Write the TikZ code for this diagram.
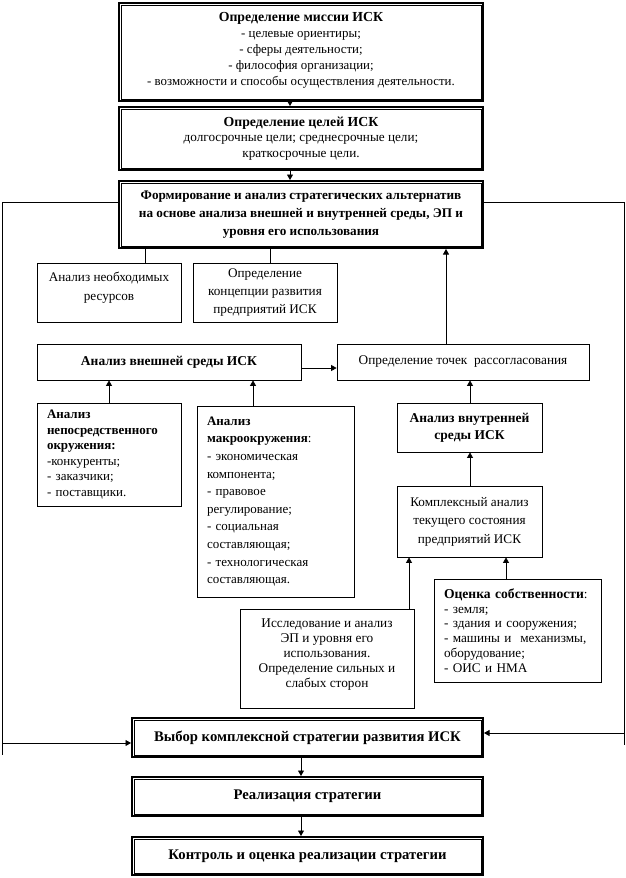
\documentclass[tikz,border=0pt]{standalone}
\usepackage{fontspec}
\setmainfont{Liberation Serif}
\usetikzlibrary{arrows.meta}
\newcommand\fsz[2]{\fontsize{#1}{#2}\selectfont}
\newcommand\bt[2]{{\fontsize{#1}{10}\selectfont\bfseries #2}}
\begin{document}
\begin{tikzpicture}[x=1pt,y=-1pt,
  box/.style={draw,line width=0.8pt,inner sep=0pt,align=center},
  dbox/.style={draw,line width=2pt,inner sep=0pt,align=center},
  lbox/.style={draw,line width=0.8pt,inner sep=0pt,align=left},
  arr/.style={-{Triangle[length=5.5pt,width=6pt]},line width=0.8pt},
  ln/.style={line width=0.8pt}]
\useasboundingbox (0,0) rectangle (626,878);
% double-bordered main boxes
\node[dbox,minimum width=364,minimum height=98,font=\fsz{12.9}{16}] (b1) at (301,52)
  {\bt{13.8}{Определение миссии ИСК}\\- целевые ориентиры;\\- сферы деятельности;\\- философия организации;\\- возможности и способы осуществления деятельности.\\[-10pt]\mbox{}};
\node[dbox,minimum width=364,minimum height=63,font=\fsz{13.2}{15.5}] (b2) at (301,138.5)
  {\bt{13.8}{Определение целей ИСК}\\долгосрочные цели; среднесрочные цели;\\краткосрочные цели.};
\node[dbox,minimum width=364,minimum height=67,font=\fsz{13.2}{18}\bfseries] (b3) at (301,214.5)
  {Формирование и анализ стратегических альтернатив\\на основе анализа внешней и внутренней среды, ЭП и\\уровня его использования};
\node[dbox,minimum width=351,minimum height=39,font=\fsz{14.7}{16}\bfseries] (vybor) at (307.5,737.5)
  {Выбор комплексной стратегии развития ИСК};
\node[dbox,minimum width=351,minimum height=39,font=\fsz{14.7}{16}\bfseries] (real) at (307.5,796.5)
  {Реализация стратегии};
\node[dbox,minimum width=351,minimum height=38,font=\fsz{14.7}{16}\bfseries] (ctrl) at (307.5,856)
  {Контроль и оценка реализации стратегии};
\foreach \n in {b1,b2,b3,vybor,real,ctrl}
  \draw[line width=0.8pt] ([xshift=3pt,yshift=-3pt]\n.north west) rectangle ([xshift=-3pt,yshift=3pt]\n.south east);
% simple boxes
\node[box,minimum width=144,minimum height=59,font=\fsz{13.2}{19}] (res) at (109,292.5)
  {Анализ необходимых\\ресурсов\\[-6pt]\mbox{}};
\node[box,minimum width=144,minimum height=59,font=\fsz{13.2}{18}] (conc) at (265,292.5)
  {Определение\\концепции развития\\предприятий ИСК};
\node[box,minimum width=264,minimum height=36,font=\fsz{13.5}{15}\bfseries] (ext) at (169,362)
  {Анализ внешней среды ИСК};
\node[box,minimum width=252,minimum height=36,font=\fsz{13.3}{15}] (pts) at (463,362)
  {Определение точек\ \ рассогласования};
\node[lbox,minimum width=144,minimum height=103,text width=124,font=\fsz{13}{15.6}] (near) at (109,454.5)
  {\textbf{Анализ}\\\textbf{непосредственного}\\\textbf{окружения:}\\-конкуренты;\\- заказчики;\\- поставщики.};
\node[lbox,minimum width=157,minimum height=191,text width=137,font=\fsz{13}{17.6}] (macro) at (275.5,501.5)
  {\textbf{Анализ}\\\textbf{макроокружения}:\\- экономическая\\компонента;\\- правовое\\регулирование;\\- социальная\\составляющая;\\- технологическая\\составляющая.};
\node[box,minimum width=145,minimum height=49,font=\fsz{13.5}{17}\bfseries] (intern) at (469.5,427.5)
  {Анализ внутренней\\среды ИСК};
\node[box,minimum width=145,minimum height=71,font=\fsz{13.2}{18.5}] (compl) at (469.5,521.5)
  {Комплексный анализ\\текущего состояния\\предприятий ИСК};
\node[lbox,minimum width=167,minimum height=103,text width=147,font=\fsz{13.2}{14.8}] (own) at (517.5,630.5)
  {\bt{13.6}{Оценка собственности}:\\- земля;\\- здания и сооружения;\\- машины и\ \ механизмы,\\оборудование;\\- ОИС и НМА};
\node[box,minimum width=174,minimum height=99,font=\fsz{13.3}{15}] (study) at (327,658.5)
  {Исследование и анализ\\ЭП и уровня его\\использования.\\Определение сильных и\\слабых сторон\\[-5pt]\mbox{}};
% connector x/y positions
\coordinate (xa) at (290,0);
\coordinate (xr) at (145,0);
\coordinate (xc) at (270,0);
\coordinate (xp) at (446,0);
\coordinate (ye) at (0,368);
\coordinate (xn) at (109,0);
\coordinate (xm) at (253,0);
\coordinate (xi) at (470,0);
\coordinate (xs) at (409,0);
\coordinate (xo) at (506,0);
\coordinate (xv) at (301,0);
\coordinate (yl) at (0,202);
\coordinate (L1) at (2,202);
\coordinate (L2) at (2,755);
\coordinate (La) at (2,743);
\coordinate (R1) at (624,202);
\coordinate (R2) at (624,745);
\coordinate (Ra) at (624,733);
% connectors
\draw[arr] (b1.south -| xa) -- (b2.north -| xa);
\draw[arr] (b2.south -| xa) -- (b3.north -| xa);
\draw[ln] (b3.south -| xr) -- (res.north -| xr);
\draw[ln] (b3.south -| xc) -- (conc.north -| xc);
\draw[arr] (pts.north -| xp) -- (b3.south -| xp);
\draw[arr] (ext.east |- ye) -- (pts.west |- ye);
\draw[arr] (near.north -| xn) -- (ext.south -| xn);
\draw[arr] (macro.north -| xm) -- (ext.south -| xm);
\draw[arr] (intern.north -| xi) -- (pts.south -| xi);
\draw[arr] (compl.north -| xi) -- (intern.south -| xi);
\draw[arr] (study.north -| xs) -- (compl.south -| xs);
\draw[arr] (own.north -| xo) -- (compl.south -| xo);
\draw[arr] (vybor.south -| xv) -- (real.north -| xv);
\draw[arr] (real.south -| xv) -- (ctrl.north -| xv);
\draw[ln] (b3.west |- yl) -- (L1) -- (L2);
\draw[arr] (La) -- (vybor.west |- La);
\draw[ln] (b3.east |- yl) -- (R1) -- (R2);
\draw[arr] (Ra) -- (vybor.east |- Ra);
\end{tikzpicture}
\end{document}
